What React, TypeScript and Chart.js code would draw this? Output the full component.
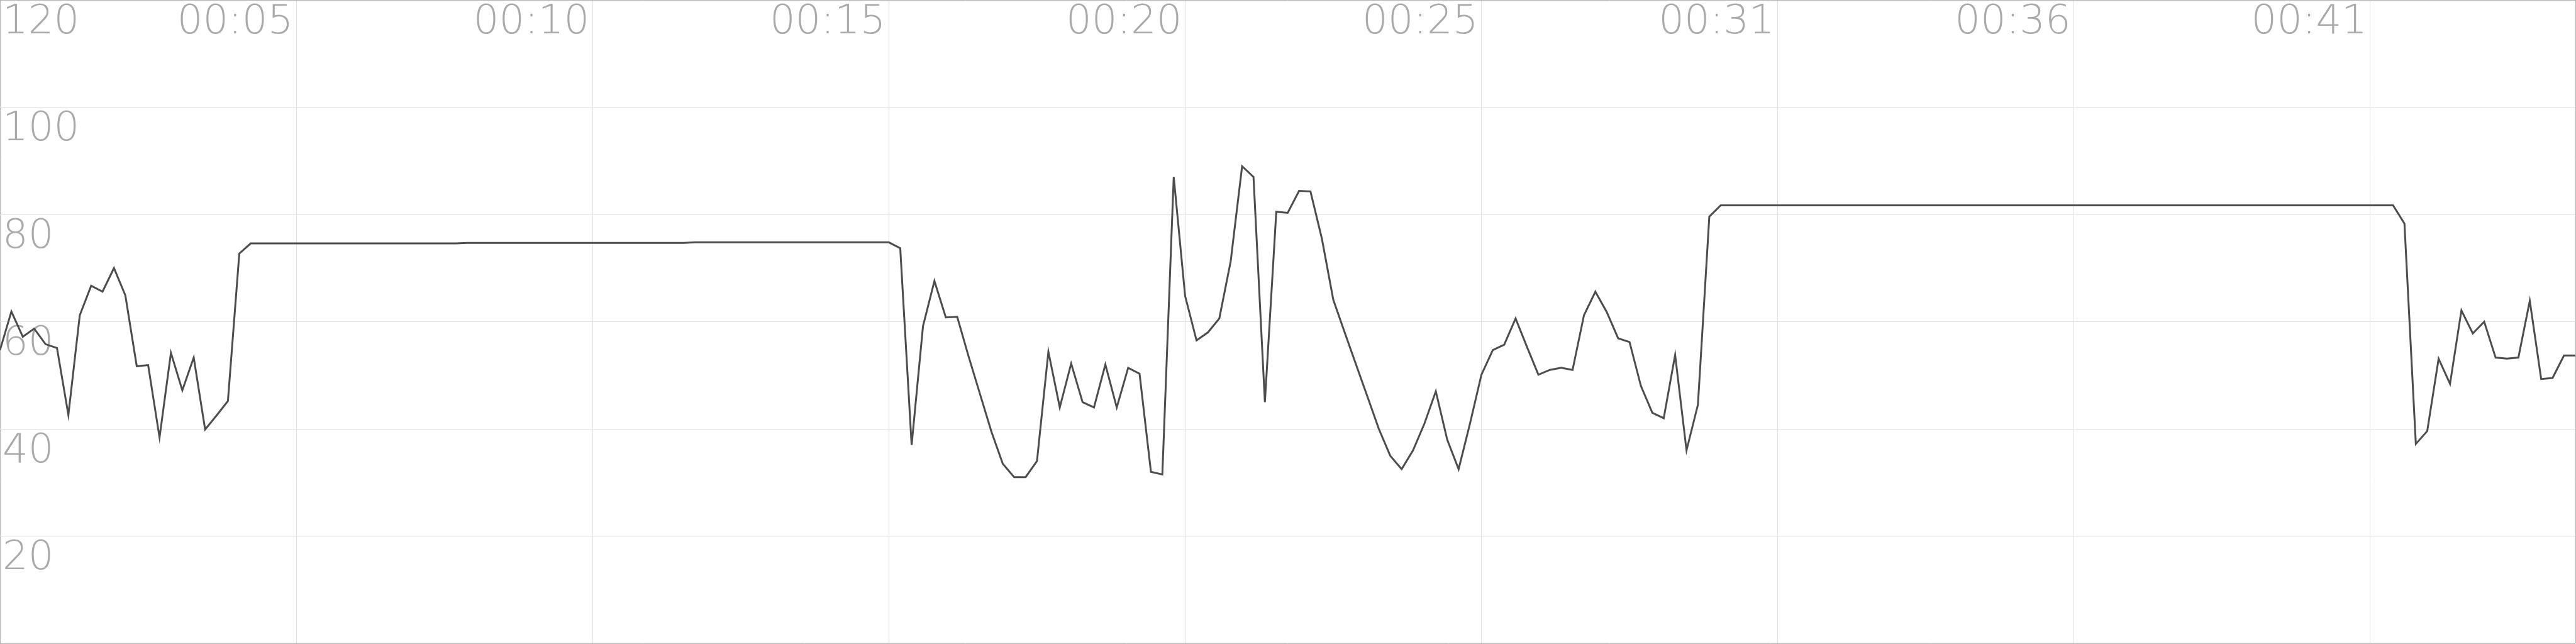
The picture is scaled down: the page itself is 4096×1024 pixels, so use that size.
import React, { useEffect, useRef } from 'react';
import { Chart, registerables } from 'chart.js';

Chart.register(...registerables);

// Sample values (one sample per step), split by phase of the recording
const openingValues = [
  54.7, 61.9, 57.2, 58.7, 55.8, 55.1, 42.6, 61.2, 66.7, 65.6, 70.0, 64.9, 51.7, 51.9,
  38.4, 54.2, 47.2, 53.3, 39.9, 42.5, 45.2, 72.7, 74.6,
];
const plateauA = [
  74.6, 74.6, 74.6, 74.6, 74.6, 74.6, 74.6, 74.6, 74.6, 74.6, 74.6, 74.6, 74.6, 74.6, 74.6, 74.6, 74.6, 74.6,
  74.7, 74.7, 74.7, 74.7, 74.7, 74.7, 74.7, 74.7, 74.7, 74.7, 74.7, 74.7, 74.7, 74.7, 74.7, 74.7, 74.7, 74.7, 74.7, 74.7,
  74.8, 74.8, 74.8, 74.8, 74.8, 74.8, 74.8, 74.8, 74.8, 74.8, 74.8, 74.8, 74.8, 74.8, 74.8, 74.8, 74.8,
];
const middleValues = [
  74.8, 73.7, 37.0, 59.2, 67.6, 60.8, 60.9, 53.5, 46.5, 39.5, 33.5, 31.0, 31.0, 34.0,
  54.4, 44.0, 52.2, 45.0, 44.0, 52.0, 44.0, 51.4, 50.3, 32.0, 31.5, 87.0, 64.8, 56.5,
  58.0, 60.6, 71.3, 89.0, 87.0, 45.0, 80.5, 80.3, 84.4, 84.3, 75.5, 64.1, 58.0, 52.0,
  46.0, 40.0, 35.0, 32.5, 36.0, 41.0, 47.0, 38.0, 32.5, 41.0, 50.1, 54.7, 55.7, 60.6,
  55.3, 50.1, 51.0, 51.4, 51.0, 61.2, 65.6, 61.8, 56.9, 56.2, 48.0, 43.0, 42.0, 53.8,
  36.0, 44.5, 79.6,
];
const plateauB = [
  81.7, 81.7, 81.7, 81.7, 81.7, 81.7, 81.7, 81.7, 81.7, 81.7, 81.7, 81.7, 81.7, 81.7, 81.7,
  81.7, 81.7, 81.7, 81.7, 81.7, 81.7, 81.7, 81.7, 81.7, 81.7, 81.7, 81.7, 81.7, 81.7, 81.7,
  81.7, 81.7, 81.7, 81.7, 81.7, 81.7, 81.7, 81.7, 81.7, 81.7, 81.7, 81.7, 81.7, 81.7, 81.7,
  81.7, 81.7, 81.7, 81.7, 81.7, 81.7, 81.7, 81.7, 81.7, 81.7, 81.7, 81.7, 81.7, 81.7, 81.7,
];
const closingValues = [
  78.3, 37.2, 39.6, 53.1, 48.4, 62.1, 57.8, 60.0, 53.3, 53.1, 53.3, 63.9, 49.3, 49.5, 53.7, 53.7,
];

// Time labels shown every `samplesPerTick` samples
const xTickLabels = ['00:05', '00:10', '00:15', '00:20', '00:25', '00:31', '00:36', '00:41'];
const samplesPerTick = 26;

// Value axis
const yMin = 0;
const yMax = 120;
const yStep = 20;

const GRID = '#e0e0e0';
const EDGE = '#b4b4b4';
const TEXT = '#aaaaaa';
const LINE = '#4d4d4d';

export default function App() {
  const ref = useRef<HTMLCanvasElement | null>(null);

  useEffect(() => {
    document.body.style.margin = '0';
    const values = [...openingValues, ...plateauA, ...middleValues, ...plateauB, ...closingValues];
    const lastIndex = values.length - 1;
    const font = { family: "'DejaVu Sans', sans-serif", size: 64, weight: 200 as any };

    const chart = new Chart(ref.current as HTMLCanvasElement, {
      type: 'line',
      data: {
        datasets: [
          {
            data: values.map((v, i) => ({ x: i, y: v })),
            borderColor: LINE,
            borderWidth: 3,
            pointRadius: 0,
            tension: 0,
            fill: false,
          },
        ],
      },
      options: {
        animation: false,
        responsive: false,
        maintainAspectRatio: false,
        devicePixelRatio: 1,
        layout: { padding: { left: 0, top: 0, right: 1, bottom: 1 } },
        plugins: { legend: { display: false }, tooltip: { enabled: false } },
        scales: {
          x: {
            type: 'linear',
            position: 'top',
            min: 0,
            max: lastIndex,
            afterFit: (s: any) => {
              s.height = 0;
              s.paddingLeft = 0;
              s.paddingRight = 0;
              s.paddingTop = 0;
              s.paddingBottom = 0;
            },
            border: { display: false },
            grid: {
              drawTicks: false,
              lineWidth: 1,
              color: (c: any) =>
                c.tick && (c.tick.value === 0 || c.tick.value === lastIndex) ? EDGE : GRID,
            },
            ticks: {
              stepSize: samplesPerTick,
              autoSkip: false,
              maxRotation: 0,
              minRotation: 0,
              align: 'end',
              mirror: true,
              labelOffset: -5,
              padding: -2,
              color: TEXT,
              font,
              callback: (v: any) => {
                const n = Number(v);
                if (n % samplesPerTick !== 0) return '';
                const k = n / samplesPerTick - 1;
                return k >= 0 && k < xTickLabels.length ? xTickLabels[k] : '';
              },
            },
          },
          y: {
            type: 'linear',
            position: 'left',
            min: yMin,
            max: yMax,
            afterFit: (s: any) => {
              s.width = 0;
              s.paddingLeft = 0;
              s.paddingRight = 0;
              s.paddingTop = 0;
              s.paddingBottom = 0;
            },
            border: { display: false },
            grid: {
              drawTicks: false,
              lineWidth: 1,
              color: (c: any) =>
                c.tick && (c.tick.value === yMin || c.tick.value === yMax) ? EDGE : GRID,
            },
            ticks: {
              stepSize: yStep,
              mirror: true,
              padding: 4,
              labelOffset: 36,
              color: TEXT,
              font,
            },
          },
        },
      },
    });
    return () => chart.destroy();
  }, []);

  return (
    <div style={{ width: 4096, height: 1024 }}>
      <canvas ref={ref} width={4096} height={1024} style={{ display: 'block' }} />
    </div>
  );
}
